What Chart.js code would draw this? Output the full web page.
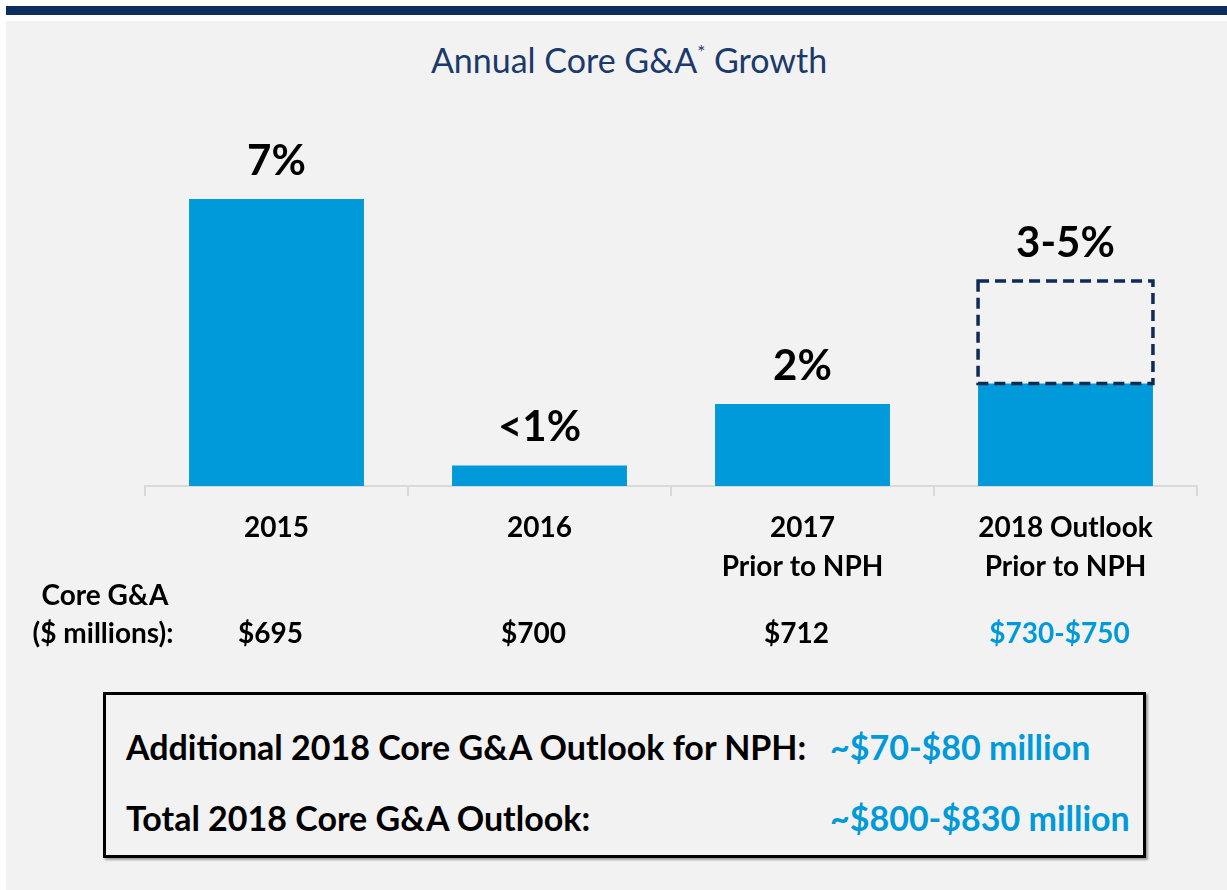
<!DOCTYPE html>
<html>
<head>
<meta charset="utf-8">
<title>Annual Core G&amp;A Growth</title>
<script src="https://cdn.jsdelivr.net/npm/chart.js@4.4.1/dist/chart.umd.min.js"></script>
<style>
  body { margin: 0; width: 1227px; height: 890px; background: #fff; position: relative; overflow: hidden; font-family: Lato, "Open Sans", sans-serif; }
  #band { position: absolute; left: 6px; top: 6px; right: 0; height: 9px; background: #0c2d5e; }
  #panel { position: absolute; left: 6px; top: 21px; right: 0; bottom: 0; background: #f2f2f2; }
  #title { position: absolute; left: 0; width: 1258px; top: 39px; text-align: center; color: #1b3a6b; font-size: 34px; line-height: 42px; }
  #title sup { font-size: 19px; vertical-align: 14px; line-height: 0; }
  #wrap { position: absolute; left: 0; top: 0; width: 1227px; height: 680px; }
  #box { position: absolute; left: 103px; top: 692px; width: 1037px; height: 160px; border: 3px solid #000; box-shadow: 2px 2px 2px rgba(0,0,0,0.35); }
  .row { position: absolute; left: 20px; font-weight: bold; font-size: 34px; line-height: 40px; color: #000; white-space: nowrap; }
  .row span { position: absolute; left: 704px; color: #0099da; }
</style>
</head>
<body>
<div id="band"></div>
<div id="panel"></div>
<div id="title">Annual Core G&amp;A<sup>*</sup> Growth</div>
<div id="wrap"><canvas id="chart" width="1227" height="680"></canvas></div>
<div id="box">
  <div class="row" style="top:32px">Additional 2018 Core G&amp;A Outlook for NPH:<span>~$70-$80 million</span></div>
  <div class="row" style="top:103px">Total 2018 Core G&amp;A Outlook:<span>~$800-$830 million</span></div>
</div>
<script>
// categories and values
const categories = [['2015'], ['2016'], ['2017', 'Prior to NPH'], ['2018 Outlook', 'Prior to NPH']];
const growthLow = [7, 0.5, 2, 2.5];          // % growth (solid bars)
const growthHigh = [null, null, null, 5];     // top of outlook range (dashed)
const growthLabels = ['7%', '<1%', '2%', '3-5%'];
const coreGA = ['$695', '$700', '$712', '$730-$750'];

const barBlue = '#0099da';

const overlay = {
  id: 'overlay',
  afterDatasetsDraw(chart) {
    const ctx = chart.ctx;
    const xs = chart.scales.x, ys = chart.scales.y;

    // dashed outline for the outlook range
    const meta = chart.getDatasetMeta(1);
    meta.data.forEach((bar, i) => {
      if (growthHigh[i] == null) return;
      const p = bar.getProps(['x', 'y', 'base', 'width'], true);
      ctx.save();
      ctx.strokeStyle = '#0e2b58';
      ctx.lineWidth = 3.5;
      ctx.setLineDash([11, 6]);
      ctx.strokeRect(p.x - p.width / 2, p.y, p.width, p.base - p.y);
      ctx.restore();
    });

    // growth labels above each bar
    ctx.save();
    ctx.fillStyle = '#000';
    ctx.textAlign = 'center';
    ctx.textBaseline = 'middle';
    ctx.font = 'bold 42px Lato';
    growthLabels.forEach((lab, i) => {
      const top = ys.getPixelForValue(growthHigh[i] != null ? growthHigh[i] : growthLow[i]);
      ctx.fillText(lab, xs.getPixelForValue(i), top - 38);
    });

    // Core G&A row
    ctx.font = 'bold 28px Lato';
    ctx.fillText('Core G&A', 105, 596);
    ctx.fillText('($ millions):', 103, 634);
    coreGA.forEach((v, i) => {
      ctx.fillStyle = i === coreGA.length - 1 ? barBlue : '#000';
      ctx.fillText(v, xs.getPixelForValue(i) - 6, 634);
    });
    ctx.restore();
  }
};

new Chart(document.getElementById('chart'), {
  type: 'bar',
  data: {
    labels: categories,
    datasets: [
      {
        label: 'Core G&A growth',
        data: growthLow,
        backgroundColor: barBlue,
        borderWidth: 0
      },
      {
        label: 'Outlook range',
        data: growthHigh.map((h, i) => h == null ? null : [growthLow[i], h]),
        backgroundColor: 'rgba(0,0,0,0)',
        borderWidth: 0
      }
    ]
  },
  options: {
    responsive: false,
    devicePixelRatio: 1,
    animation: false,
    categoryPercentage: 1,
    barPercentage: 0.665,
    layout: { padding: { left: 145, right: 30, top: 158, bottom: 74 } },
    plugins: { legend: { display: false }, tooltip: { enabled: false }, title: { display: false } },
    scales: {
      x: {
        stacked: true,
        afterFit: (scale) => { scale.height = 120; },
        grid: { drawOnChartArea: false, drawTicks: true, tickLength: 10, color: '#d9d9d9', lineWidth: 2 },
        border: { display: true, color: '#d9d9d9', width: 2 },
        ticks: {
          color: '#000',
          padding: 12,
          font: { family: 'Lato', size: 28, weight: 'bold', lineHeight: 1.4 }
        }
      },
      y: {
        display: false,
        min: 0,
        max: 8
      }
    }
  },
  plugins: [overlay]
});
</script>
</body>
</html>
